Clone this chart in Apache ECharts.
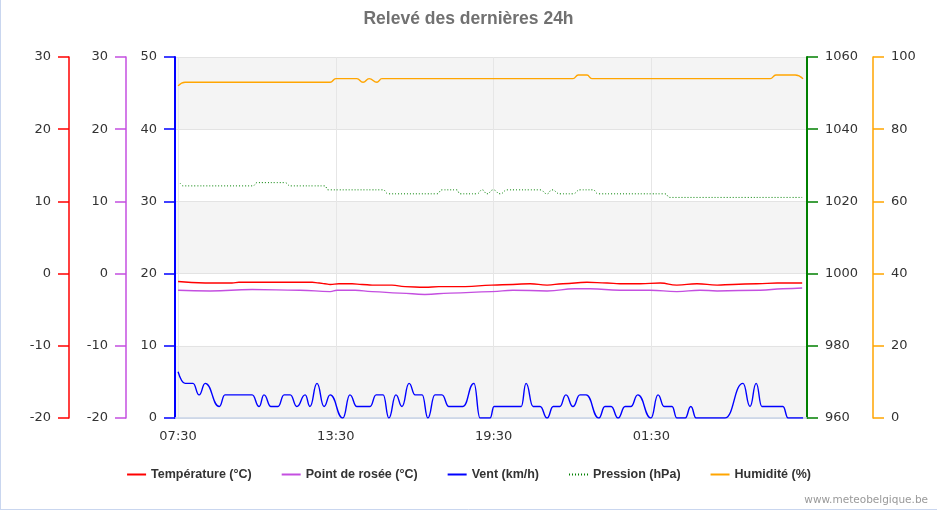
<!DOCTYPE html>
<html>
<head>
<meta charset="utf-8">
<script src="https://cdn.jsdelivr.net/npm/echarts@6/dist/echarts.min.js"></script>
<style>html,body{margin:0;padding:0;background:#fff}#c{width:937px;height:510px}</style>
</head>
<body>
<div id="c"></div>
<script>
// x values: minutes since 07:30
const tickValues = [0, 360, 720, 1080];
const tickLabels = ['07:30', '13:30', '19:30', '01:30'];

const tempTimes  = [0, 62, 123, 139, 306, 322, 335, 347, 367, 397, 420, 443, 488, 518, 563, 595, 625, 655, 716, 764, 803, 842, 878, 933, 979, 1008, 1054, 1100, 1138, 1184, 1230, 1266, 1321, 1367, 1424];
const tempValues = [-1.1, -1.3, -1.3, -1.2, -1.2, -1.3, -1.4, -1.5, -1.4, -1.4, -1.5, -1.6, -1.6, -1.8, -1.9, -1.8, -1.8, -1.8, -1.6, -1.5, -1.4, -1.6, -1.4, -1.2, -1.3, -1.4, -1.4, -1.3, -1.6, -1.4, -1.6, -1.5, -1.4, -1.3, -1.3];

const dewTimes  = [0, 73, 169, 278, 347, 363, 404, 443, 506, 563, 621, 716, 764, 842, 906, 940, 1008, 1077, 1138, 1191, 1230, 1328, 1380, 1424];
const dewValues = [-2.3, -2.4, -2.2, -2.3, -2.5, -2.3, -2.3, -2.5, -2.7, -2.9, -2.7, -2.5, -2.3, -2.4, -2.1, -2.1, -2.3, -2.3, -2.5, -2.3, -2.4, -2.3, -2.1, -2.0];

const windTimes  = [0, 16, 34, 48, 62, 94, 107, 169, 185, 196, 212, 228, 242, 256, 271, 290, 301, 317, 333, 347, 376, 392, 408, 438, 452, 468, 481, 497, 511, 527, 541, 557, 570, 586, 602, 618, 650, 675, 689, 712, 721, 783, 794, 810, 826, 842, 856, 871, 885, 901, 917, 931, 960, 974, 988, 1004, 1020, 1033, 1049, 1079, 1095, 1109, 1127, 1138, 1157, 1170, 1182, 1248, 1289, 1305, 1319, 1332, 1380, 1392, 1426];
const windValues = [6.4, 4.8, 4.8, 3.2, 4.8, 1.6, 3.2, 3.2, 1.6, 3.2, 1.6, 1.6, 3.2, 3.2, 1.6, 3.2, 1.6, 4.8, 1.6, 3.2, 0, 3.2, 1.6, 1.6, 3.2, 3.2, 0, 3.2, 1.6, 4.8, 3.2, 3.2, 0, 3.2, 3.2, 1.6, 1.6, 4.8, 0, 0, 1.6, 1.6, 4.8, 1.6, 1.6, 0, 1.6, 1.6, 3.2, 1.6, 3.2, 3.2, 0, 1.6, 1.6, 0, 1.6, 1.6, 3.2, 0, 3.2, 1.6, 1.6, 0, 0, 1.6, 0, 0, 4.8, 1.6, 4.8, 1.6, 1.6, 0, 0];

const presTimes  = [5, 11, 171, 180, 244, 256, 335, 342, 468, 479, 591, 602, 636, 643, 682, 694, 705, 719, 735, 751, 826, 842, 853, 871, 901, 917, 947, 958, 1111, 1122, 1424];
const presValues = [1025.0, 1024.3, 1024.3, 1025.2, 1025.2, 1024.3, 1024.3, 1023.2, 1023.2, 1022.1, 1022.1, 1023.2, 1023.2, 1022.1, 1022.1, 1023.2, 1022.1, 1023.2, 1022.1, 1023.2, 1023.2, 1022.1, 1023.2, 1022.1, 1022.1, 1023.2, 1023.2, 1022.1, 1022.1, 1021.1, 1021.1];

const humTimes  = [0, 16, 347, 360, 408, 422, 436, 454, 465, 901, 913, 933, 944, 1351, 1364, 1408, 1426];
const humValues = [92, 93, 93, 94, 94, 93, 94, 93, 94, 94, 95, 95, 94, 94, 95, 95, 94];

const pairs = (t, v) => t.map((x, i) => [x, v[i]]);

const C = {
  temp: '#ff0000', dew: '#c44fe0', wind: '#0000ff', pres: '#008000', hum: '#ffa500'
};
const labelFont = { fontFamily: 'DejaVu Sans', fontSize: 13, color: '#333' };

function yAxis(color, lw, min, max, interval, position, offset, extra) {
  return Object.assign({
    type: 'value', min, max, interval, position, offset,
    axisLine: { show: true, onZero: false, lineStyle: { color: color, width: lw } },
    axisTick: { show: true, length: 11, inside: false, lineStyle: { color: color, width: 1.5 } },
    axisLabel: Object.assign({ margin: 18, formatter: v => String(v) }, labelFont),
    splitLine: { show: false },
    splitArea: { show: false }
  }, extra || {});
}

const chart = echarts.init(document.getElementById('c'), null, { renderer: 'canvas' });
chart.setOption({
  animation: false,
  backgroundColor: '#fff',
  title: [
    { text: 'Relevé des dernières 24h', left: 'center', top: 5,
      textStyle: { fontFamily: 'Liberation Sans', fontSize: 17.5, fontWeight: 'bold', color: '#717171' } },
    { text: 'www.meteobelgique.be', right: 4, top: 490,
      textStyle: { fontFamily: 'DejaVu Sans', fontSize: 10.5, fontWeight: 'normal', color: '#999' } }
  ],
  legend: {
    left: 'center', top: 463, itemWidth: 19, itemHeight: 12, itemGap: 29,
    itemStyle: { opacity: 0 },
    textStyle: { fontFamily: 'Liberation Sans', fontSize: 12.5, fontWeight: 'bold', color: '#333' },
    data: ['Température (°C)', 'Point de rosée (°C)', 'Vent (km/h)', 'Pression (hPa)', 'Humidité (%)']
  },
  grid: { left: 175, right: 130, top: 57, bottom: 92, containLabel: false },
  xAxis: {
    type: 'value', min: -7, max: 1435,
    axisLine: { show: true, onZero: false, lineStyle: { color: '#c8d3e8', width: 1.5 } },
    axisTick: { show: true, customValues: tickValues, length: 0, lineStyle: { color: '#c8d3e8' } },
    axisLabel: Object.assign({ margin: 12, customValues: tickValues,
      formatter: v => tickLabels[tickValues.indexOf(v)] }, labelFont),
    splitLine: { show: true, lineStyle: { color: '#e6e6e6', width: 1 } }
  },
  yAxis: [
    yAxis(C.wind, 2, 0, 50, 10, 'left', 0, {
      splitLine: { show: true, lineStyle: { color: '#e3e3e3', width: 1 } },
      splitArea: { show: true, areaStyle: { color: ['#f4f4f4', '#ffffff'] } }
    }),
    yAxis(C.dew, 1.5, -20, 30, 10, 'left', 49),
    yAxis(C.temp, 1.5, -20, 30, 10, 'left', 106),
    yAxis(C.pres, 2, 960, 1060, 20, 'right', 0),
    yAxis(C.hum, 1.5, 0, 100, 20, 'right', 66)
  ],
  graphic: [
    { type: 'line', shape: { x1: 0.5, y1: 0, x2: 0.5, y2: 510 }, style: { stroke: '#c9d6ef', lineWidth: 1 } },
    { type: 'line', shape: { x1: 0, y1: 509.5, x2: 937, y2: 509.5 }, style: { stroke: '#c9d6ef', lineWidth: 1 } }
  ],
  series: [
    { name: 'Température (°C)', type: 'line', yAxisIndex: 2, data: pairs(tempTimes, tempValues),
      symbol: 'none', smooth: 0.5, smoothMonotone: 'x', color: C.temp, lineStyle: { color: C.temp, width: 1.4 }, z: 5 },
    { name: 'Point de rosée (°C)', type: 'line', yAxisIndex: 1, data: pairs(dewTimes, dewValues),
      symbol: 'none', smooth: 0.5, smoothMonotone: 'x', color: C.dew, lineStyle: { color: C.dew, width: 1.4 }, z: 4 },
    { name: 'Vent (km/h)', type: 'line', yAxisIndex: 0, data: pairs(windTimes, windValues),
      symbol: 'none', smooth: 0.5, smoothMonotone: 'x', color: C.wind, lineStyle: { color: C.wind, width: 1.4 }, z: 3 },
    { name: 'Pression (hPa)', type: 'line', yAxisIndex: 3, data: pairs(presTimes, presValues),
      symbol: 'none', smooth: 0.5, smoothMonotone: 'x', color: C.pres, lineStyle: { color: C.pres, width: 1, type: [1, 2] }, z: 2 },
    { name: 'Humidité (%)', type: 'line', yAxisIndex: 4, data: pairs(humTimes, humValues),
      symbol: 'none', smooth: 0.5, smoothMonotone: 'x', color: C.hum, lineStyle: { color: C.hum, width: 1.4 }, z: 1 }
  ]
});
</script>
</body>
</html>
